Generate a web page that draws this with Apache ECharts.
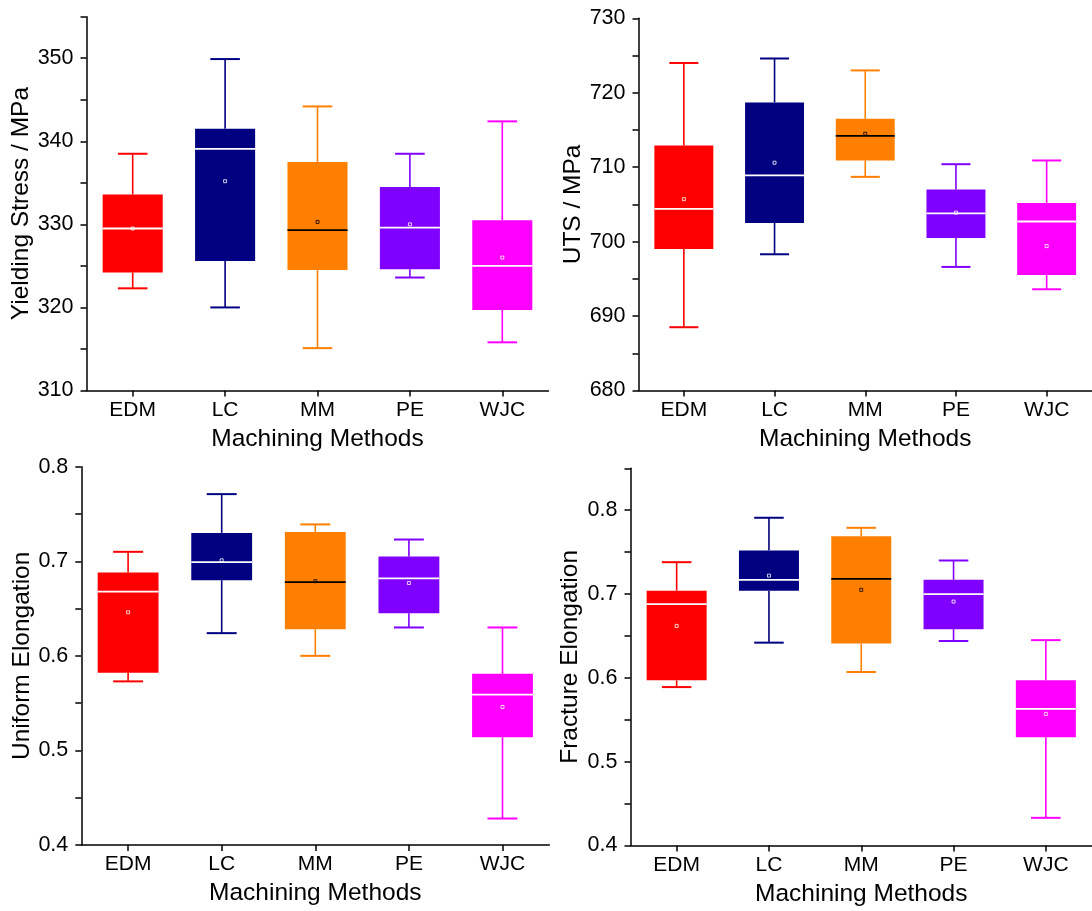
<!DOCTYPE html>
<html>
<head>
<meta charset="utf-8">
<script src="https://cdn.jsdelivr.net/npm/echarts@6/dist/echarts.min.js"></script>
<style>
html,body{margin:0;padding:0;background:#fff;}
#c{width:1092px;height:911px;}
</style>
</head>
<body>
<div id="c"></div>
<script>
// ---- data ----
var categories = ['EDM', 'LC', 'MM', 'PE', 'WJC'];
var boxColors = ['#FF0000', '#000080', '#FF8000', '#8000FF', '#FF00FF'];
var medianColors = ['#FFFFFF', '#FFFFFF', '#000000', '#FFFFFF', '#FFFFFF'];
// each row: [min, Q1, median, Q3, max, mean]
var yieldStress = [
  [322.3, 324.2, 329.5, 333.6, 338.5, 329.5],
  [320.0, 325.6, 339.1, 341.5, 349.9, 335.2],
  [315.1, 324.5, 329.3, 337.5, 344.2, 330.3],
  [323.6, 324.6, 329.6, 334.5, 338.5, 330.0],
  [315.8, 319.7, 325.0, 330.5, 342.4, 326.0]
];
var uts = [
  [688.5, 699.0, 704.4, 712.9, 724.0, 705.7],
  [698.3, 702.5, 708.9, 718.7, 724.6, 710.6],
  [708.7, 710.9, 714.2, 716.5, 723.0, 714.5],
  [696.6, 700.5, 703.8, 707.0, 710.4, 703.9],
  [693.6, 695.5, 702.7, 705.2, 710.9, 699.4]
];
var uniformElong = [
  [0.573, 0.582, 0.668, 0.688, 0.710, 0.646],
  [0.624, 0.680, 0.699, 0.730, 0.771, 0.701],
  [0.600, 0.628, 0.678, 0.731, 0.739, 0.679],
  [0.630, 0.645, 0.682, 0.705, 0.723, 0.677],
  [0.428, 0.514, 0.559, 0.581, 0.630, 0.546]
];
var fractureElong = [
  [0.589, 0.597, 0.688, 0.704, 0.738, 0.662],
  [0.642, 0.704, 0.717, 0.752, 0.791, 0.722],
  [0.607, 0.641, 0.718, 0.769, 0.779, 0.705],
  [0.644, 0.658, 0.700, 0.717, 0.740, 0.691],
  [0.433, 0.529, 0.563, 0.597, 0.645, 0.557]
];
var yNames = ['Yielding Stress / MPa', 'UTS / MPa', 'Uniform Elongation', 'Fracture Elongation'];
var xName = 'Machining Methods';

// ---- build ----
var FONT = '"Liberation Sans", Arial, Helvetica, sans-serif';
var panels = [
  {data: yieldStress, min: 310, max: 355, interval: 5, dec: 0,
   grid: {left: 86.5, top: 16.7, width: 462, height: 373.8}, nameGap: 52},
  {data: uts, min: 680, max: 730, interval: 5, dec: 0,
   grid: {left: 638.5, top: 18.3, width: 460.5, height: 372.2}, nameGap: 50},
  {data: uniformElong, min: 0.4, max: 0.8, interval: 0.05, dec: 1,
   grid: {left: 81.3, top: 466.7, width: 468, height: 378.3}, nameGap: 47},
  {data: fractureElong, min: 0.4, max: 0.85, interval: 0.05, dec: 1,
   grid: {left: 630.5, top: 468.3, width: 469, height: 377.2}, nameGap: 47.5}
];

function renderBox(params, api) {
  var ci = api.value(0);
  var color = boxColors[ci];
  var mc = medianColors[ci];
  var pMin = api.coord([ci, api.value(1)]);
  var pQ1 = api.coord([ci, api.value(2)]);
  var pMed = api.coord([ci, api.value(3)]);
  var pQ3 = api.coord([ci, api.value(4)]);
  var pMax = api.coord([ci, api.value(5)]);
  var pMean = api.coord([ci, api.value(6)]);
  var band = api.size([1, 0])[0];
  var bw = band * 0.65;
  var cw = band * 0.32;
  var cx = pMed[0];
  var lineStyle = {stroke: color, lineWidth: 1.6};
  return {
    type: 'group',
    children: [
      {type: 'line', shape: {x1: cx, y1: pQ3[1], x2: cx, y2: pMax[1]}, style: lineStyle},
      {type: 'line', shape: {x1: cx, y1: pQ1[1], x2: cx, y2: pMin[1]}, style: lineStyle},
      {type: 'line', shape: {x1: cx - cw / 2, y1: pMax[1], x2: cx + cw / 2, y2: pMax[1]}, style: {stroke: color, lineWidth: 2}},
      {type: 'line', shape: {x1: cx - cw / 2, y1: pMin[1], x2: cx + cw / 2, y2: pMin[1]}, style: {stroke: color, lineWidth: 2}},
      {type: 'rect', shape: {x: cx - bw / 2, y: pQ3[1], width: bw, height: pQ1[1] - pQ3[1]}, style: {fill: color, stroke: null}},
      {type: 'line', shape: {x1: cx - bw / 2, y1: pMed[1], x2: cx + bw / 2, y2: pMed[1]}, style: {stroke: mc, lineWidth: 1.8}},
      {type: 'rect', shape: {x: cx - 1.5, y: pMean[1] - 1.5, width: 3, height: 3}, style: {fill: null, stroke: mc, lineWidth: 1, opacity: 0.8}}
    ]
  };
}

var option = {
  backgroundColor: '#fff',
  animation: false,
  textStyle: {fontFamily: FONT},
  grid: [], xAxis: [], yAxis: [], series: []
};

panels.forEach(function (p, i) {
  option.grid.push(p.grid);
  option.xAxis.push({
    type: 'category', gridIndex: i, data: categories,
    name: xName, nameLocation: 'middle', nameGap: 36,
    nameTextStyle: {fontSize: 24.5, color: '#000', fontFamily: FONT},
    axisLine: {lineStyle: {color: '#000', width: 1.5}},
    axisTick: {show: true, alignWithLabel: true, length: 6, lineStyle: {color: '#000', width: 1.5}},
    axisLabel: {fontSize: 21, color: '#000', margin: 9, fontFamily: FONT},
    splitLine: {show: false}
  });
  option.yAxis.push({
    type: 'value', gridIndex: i, min: p.min, max: p.max, interval: p.interval,
    name: yNames[i], nameLocation: 'middle', nameGap: p.nameGap,
    nameTextStyle: {fontSize: 24.5, color: '#000', fontFamily: FONT},
    axisLine: {show: true, lineStyle: {color: '#000', width: 1.5}},
    axisTick: {show: true, length: 6, lineStyle: {color: '#000', width: 1.5}},
    axisLabel: {
      fontSize: 21.5, color: '#000', margin: 13, fontFamily: FONT,
      formatter: (function (dec) {
        return function (v) {
          if (dec) {
            var k = Math.round(v * 100);
            return k % 10 === 0 ? (k / 100).toFixed(dec) : '';
          }
          var r = Math.round(v);
          return r % 10 === 0 ? String(r) : '';
        };
      })(p.dec)
    },
    splitLine: {show: false}
  });
  option.series.push({
    type: 'custom', xAxisIndex: i, yAxisIndex: i,
    renderItem: renderBox,
    encode: {x: 0, y: [1, 2, 3, 4, 5, 6]},
    data: p.data.map(function (r, ci) { return [ci].concat(r); })
  });
});

var chart = echarts.init(document.getElementById('c'), null, {renderer: 'canvas'});
chart.setOption(option);
</script>
</body>
</html>
